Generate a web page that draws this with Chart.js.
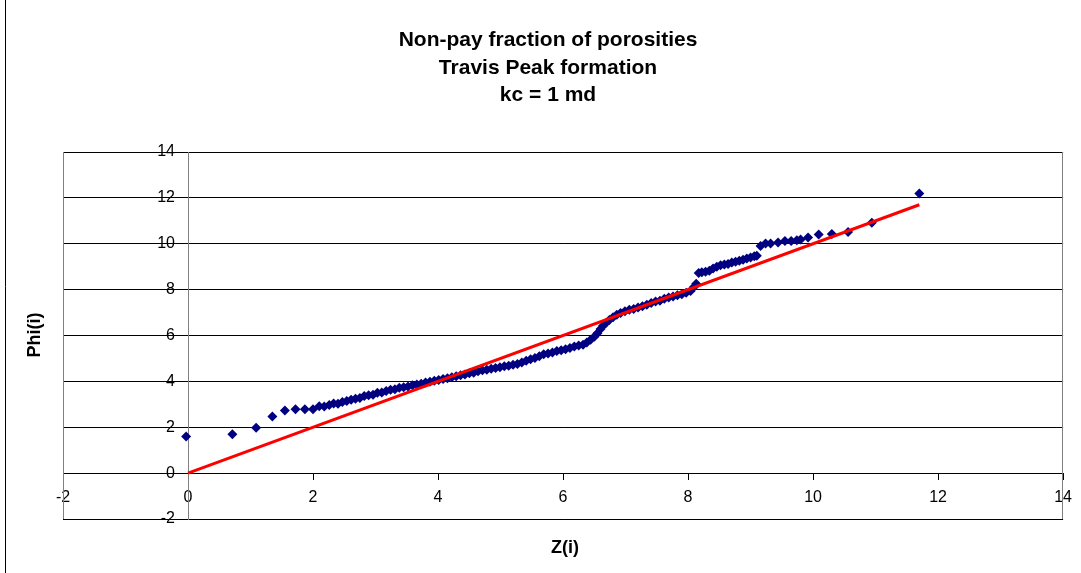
<!DOCTYPE html>
<html>
<head>
<meta charset="utf-8">
<title>Non-pay fraction of porosities</title>
<script src="https://cdn.jsdelivr.net/npm/chart.js@4.4.1/dist/chart.umd.min.js"></script>
<style>
  html, body { margin: 0; padding: 0; background: #fff; }
  #wrap { position: relative; width: 1081px; height: 573px; }
</style>
</head>
<body>
<div id="wrap"><canvas id="chart_phi_canvas"></canvas></div>
<script>
// Chart texts
var titleLines = ['Non-pay fraction of porosities', 'Travis Peak formation', 'kc = 1 md'];
var xAxisTitle = 'Z(i)';
var yAxisTitle = 'Phi(i)';

// Axis ranges / tick labels
var xTicks = [-2, 0, 2, 4, 6, 8, 10, 12, 14];
var yTicks = [-2, 0, 2, 4, 6, 8, 10, 12, 14];

var zValues = [
  -0.03, 0.71, 1.09, 1.35, 1.55, 1.72, 1.87, 2.00,
  2.10, 2.18, 2.26, 2.33, 2.40, 2.47, 2.54, 2.61, 2.68, 2.75,
  2.82, 2.89, 2.96, 3.03, 3.10, 3.17, 3.24, 3.31, 3.38, 3.45,
  3.52, 3.59, 3.66, 3.73, 3.80, 3.87, 3.94, 4.01, 4.08, 4.15,
  4.22, 4.29, 4.36, 4.43, 4.50, 4.57, 4.64, 4.71, 4.78, 4.85,
  4.92, 4.99, 5.06, 5.13, 5.20, 5.27, 5.34, 5.41, 5.48, 5.55,
  5.62, 5.69, 5.76, 5.83, 5.90, 5.97, 6.04, 6.11, 6.18, 6.25,
  6.32, 6.38, 6.44, 6.50, 6.55, 6.60, 6.64, 6.69, 6.74, 6.80,
  6.86, 6.92, 6.99, 7.06, 7.13, 7.20, 7.27, 7.34, 7.41, 7.48,
  7.55, 7.62, 7.69, 7.76, 7.83, 7.90, 7.97, 8.04, 8.09, 8.13,
  8.17, 8.22, 8.28, 8.34, 8.40, 8.46, 8.52, 8.58, 8.64, 8.70,
  8.76, 8.82, 8.88, 8.94, 9.00, 9.06, 9.10,
  9.16, 9.24, 9.32, 9.44, 9.55, 9.65, 9.74, 9.80, 9.92, 10.09,
  10.30, 10.56, 10.94, 11.70
];
var phiValues = [
  1.60, 1.70, 1.98, 2.47, 2.73, 2.79, 2.79, 2.78,
  2.92, 2.90, 2.97, 3.04, 3.02, 3.10, 3.14, 3.20, 3.24, 3.27,
  3.36, 3.40, 3.42, 3.50, 3.52, 3.58, 3.63, 3.66, 3.72, 3.74,
  3.78, 3.83, 3.86, 3.90, 3.95, 3.98, 4.03, 4.06, 4.10, 4.14,
  4.18, 4.22, 4.27, 4.30, 4.35, 4.38, 4.44, 4.48, 4.51, 4.55,
  4.58, 4.62, 4.66, 4.68, 4.72, 4.76, 4.82, 4.90, 4.96, 5.02,
  5.10, 5.18, 5.22, 5.26, 5.32, 5.36, 5.40, 5.45, 5.52, 5.56,
  5.60, 5.70, 5.82, 5.95, 6.10, 6.28, 6.42, 6.56, 6.68, 6.80,
  6.90, 6.98, 7.06, 7.12, 7.16, 7.22, 7.28, 7.34, 7.42, 7.48,
  7.52, 7.60, 7.66, 7.70, 7.76, 7.80, 7.86, 7.94, 8.10, 8.26,
  8.72, 8.76, 8.78, 8.82, 8.92, 9.00, 9.06, 9.10, 9.12, 9.18,
  9.22, 9.26, 9.30, 9.36, 9.40, 9.46, 9.48,
  9.90, 10.01, 10.01, 10.05, 10.12, 10.12, 10.15, 10.19, 10.27, 10.40,
  10.42, 10.51, 10.92, 12.19
];

// Reference line Phi = Z (end points)
var lineZ = [0, 11.7];
var linePhi = [0, 11.7];

(function () {
    var FONT = "'Liberation Sans', Arial, sans-serif";

    // Build point objects for the library
    var points = zValues.map(function (z, i) { return {x: z, y: phiValues[i]}; });
    var linePoints = lineZ.map(function (z, i) { return {x: z, y: linePhi[i]}; });

    // Titles, frame, plot area border, y tick labels (Excel look)
    var excelDecor = {
        id: 'excelDecor',
        afterDraw: function (chart) {
            var ctx = chart.ctx;
            var a = chart.chartArea;
            var yScale = chart.scales.y;
            var xScale = chart.scales.x;
            ctx.save();

            // plot area sides
            ctx.strokeStyle = '#808080';
            ctx.lineWidth = 1;
            ctx.beginPath();
            ctx.moveTo(Math.round(a.left) + 0.5, a.top);
            ctx.lineTo(Math.round(a.left) + 0.5, a.bottom);
            ctx.moveTo(Math.round(a.right) - 0.5, a.top);
            ctx.lineTo(Math.round(a.right) - 0.5, a.bottom);
            ctx.stroke();

            // outer chart frame (left edge only visible)
            ctx.strokeStyle = '#000';
            ctx.beginPath();
            ctx.moveTo(5.5, 0);
            ctx.lineTo(5.5, chart.height);
            ctx.stroke();

            // y tick labels, right aligned left of the crossing axis
            ctx.fillStyle = '#000';
            ctx.font = '16px ' + FONT;
            ctx.textAlign = 'right';
            ctx.textBaseline = 'middle';
            var axisX = xScale.getPixelForValue(0);
            yScale.ticks.forEach(function (t) {
                ctx.fillText(String(t.value), axisX - 13, yScale.getPixelForValue(t.value));
            });

            // chart title
            ctx.textAlign = 'center';
            ctx.font = 'bold 21px ' + FONT;
            titleLines.forEach(function (t, i) {
                ctx.fillText(t, 548, 40.5 + i * 27.5);
            });

            // axis titles
            ctx.font = 'bold 18px ' + FONT;
            ctx.fillText(xAxisTitle, 565, 548);
            ctx.translate(35, 335);
            ctx.rotate(-Math.PI / 2);
            ctx.fillText(yAxisTitle, 0, 0);
            ctx.restore();
        }
    };

    var ctx = document.getElementById('chart_phi_canvas').getContext('2d');
    new Chart(ctx, {
        type: 'scatter',
        data: {
            datasets: [{
                type: 'line',
                label: 'Phi = Z',
                data: linePoints,
                borderColor: '#ff0000',
                borderWidth: 3,
                pointRadius: 0,
                fill: false,
                order: 0
            }, {
                label: 'Phi(i)',
                data: points,
                pointStyle: 'rectRot',
                pointRadius: 5,
                pointHoverRadius: 5,
                backgroundColor: '#000080',
                borderColor: '#000080',
                borderWidth: 0,
                order: 1
            }]
        },
        options: {
            responsive: true,
            maintainAspectRatio: false,
            animation: false,
            events: [],
            layout: {padding: {left: 63, right: 16, top: 152, bottom: 54}},
            plugins: {
                legend: {display: false},
                title: {display: false},
                tooltip: {enabled: false}
            },
            scales: {
                x: {
                    type: 'linear',
                    position: {y: 0},
                    min: xTicks[0],
                    max: xTicks[xTicks.length - 1],
                    afterBuildTicks: function (scale) {
                        scale.ticks = xTicks.map(function (v) { return {value: v}; });
                    },
                    ticks: {
                        autoSkip: false,
                        maxRotation: 0,
                        color: '#000',
                        padding: 9,
                        font: {family: FONT, size: 16}
                    },
                    grid: {drawOnChartArea: false, drawTicks: true, tickLength: 6, color: '#000'},
                    border: {display: true, color: '#000', width: 1}
                },
                y: {
                    type: 'linear',
                    position: {x: 0},
                    min: yTicks[0],
                    max: yTicks[yTicks.length - 1],
                    afterBuildTicks: function (scale) {
                        scale.ticks = yTicks.map(function (v) { return {value: v}; });
                    },
                    ticks: {display: false, autoSkip: false},
                    grid: {drawOnChartArea: true, drawTicks: true, tickLength: 6, color: '#000', lineWidth: 1},
                    border: {display: true, color: '#808080', width: 1}
                }
            }
        },
        plugins: [excelDecor]
    });
})();
</script>
</body>
</html>
